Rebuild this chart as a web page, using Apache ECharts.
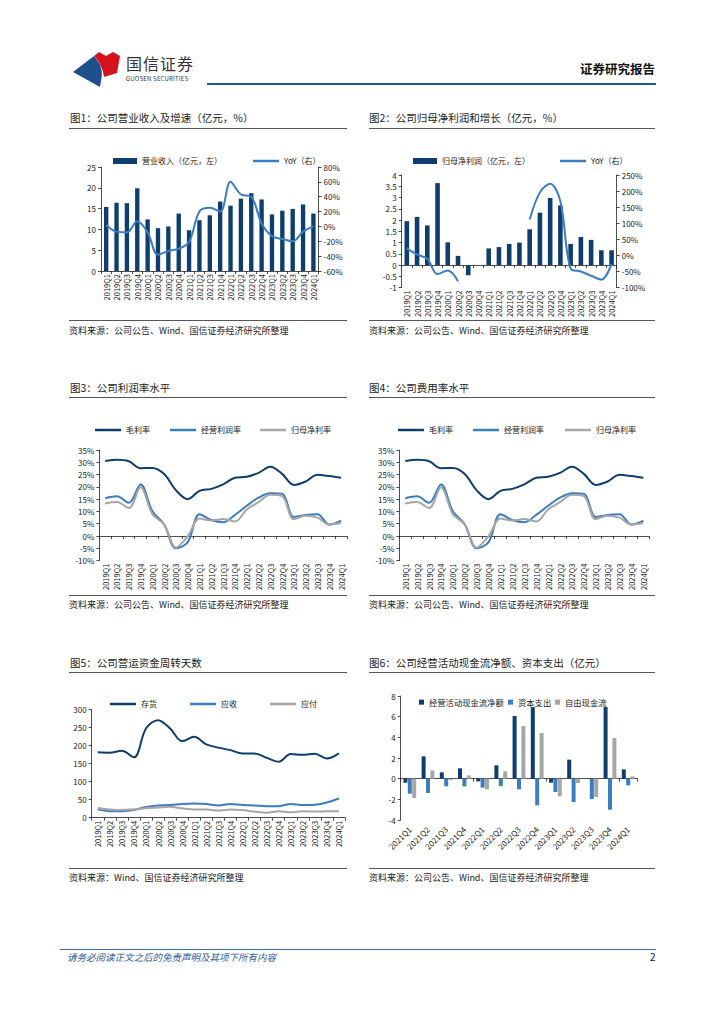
<!DOCTYPE html>
<html><head><meta charset="utf-8">
<script src="https://cdn.jsdelivr.net/npm/echarts@6.0.0/dist/echarts.min.js"></script>
<style>
body{margin:0;background:#fff;font-family:"Noto Sans CJK SC","Noto Sans",sans-serif;}
#page{position:relative;width:724px;height:1024px;overflow:hidden;background:#fff;}
.t{position:absolute;font-size:10.5px;color:#222;white-space:nowrap;line-height:14px;}
.r{position:absolute;height:0;border-top:1px solid #555;}
.s{position:absolute;font-size:9px;color:#222;white-space:nowrap;line-height:12px;}
.c{position:absolute;}
</style></head>
<body><div id="page">
<svg style="position:absolute;left:0;top:0" width="724" height="100">
  <path d="M73,72 L94,56 C97,60 100,63 101,68 C103,74 101,80 100,87 L91,82 Z" fill="#1d4f8c"/>
  <path d="M94,56 L99,52 L106,56 L113,52 L120,56 L117,73 L104,77 C103,70 100,62 94,56 Z" fill="#d7141e"/>
</svg>
<div class="t" style="left:126px;top:53px;font-size:16px;line-height:20px;color:#333;letter-spacing:1px;">国信证券</div>
<div class="t" style="left:126px;top:75px;font-size:6px;line-height:8px;color:#333;letter-spacing:0.2px;">GUOSEN SECURITIES</div>
<div class="t" style="left:580px;top:61px;font-size:12.5px;line-height:16px;font-weight:bold;color:#111;">证券研究报告</div>
<div style="position:absolute;left:207px;top:83px;width:449px;height:2px;background:#1f5593;"></div>

<div class="t" style="left:70px;top:111px;">图1：公司营业收入及增速（亿元，%）</div>
<div class="r" style="left:69px;top:128px;width:278px;"></div>
<div class="c" id="c1" style="left:60px;top:135px;width:300px;height:185px;"></div>
<div class="r" style="left:69px;top:320px;width:278px;"></div>
<div class="s" style="left:69px;top:325px;">资料来源：公司公告、Wind、国信证券经济研究所整理</div>

<div class="t" style="left:369px;top:111px;">图2：公司归母净利润和增长（亿元，%）</div>
<div class="r" style="left:369px;top:128px;width:286px;"></div>
<div class="c" id="c2" style="left:360px;top:135px;width:300px;height:185px;"></div>
<div class="r" style="left:369px;top:320px;width:286px;"></div>
<div class="s" style="left:369px;top:325px;">资料来源：公司公告、Wind、国信证券经济研究所整理</div>

<div class="t" style="left:70px;top:381px;">图3：公司利润率水平</div>
<div class="r" style="left:69px;top:397px;width:278px;"></div>
<div class="c" id="c3" style="left:60px;top:405px;width:300px;height:188px;"></div>
<div class="r" style="left:69px;top:595px;width:278px;"></div>
<div class="s" style="left:69px;top:599px;">资料来源：公司公告、Wind、国信证券经济研究所整理</div>

<div class="t" style="left:369px;top:381px;">图4：公司费用率水平</div>
<div class="r" style="left:369px;top:397px;width:286px;"></div>
<div class="c" id="c4" style="left:360px;top:405px;width:300px;height:188px;"></div>
<div class="r" style="left:369px;top:595px;width:286px;"></div>
<div class="s" style="left:369px;top:599px;">资料来源：公司公告、Wind、国信证券经济研究所整理</div>

<div class="t" style="left:70px;top:656px;">图5：公司营运资金周转天数</div>
<div class="r" style="left:69px;top:672px;width:278px;"></div>
<div class="c" id="c5" style="left:60px;top:685px;width:300px;height:178px;"></div>
<div class="r" style="left:69px;top:868px;width:278px;"></div>
<div class="s" style="left:69px;top:872px;">资料来源：Wind、国信证券经济研究所整理</div>

<div class="t" style="left:369px;top:656px;">图6：公司经营活动现金流净额、资本支出（亿元）</div>
<div class="r" style="left:369px;top:672px;width:286px;"></div>
<div class="c" id="c6" style="left:360px;top:685px;width:300px;height:178px;"></div>
<div class="r" style="left:369px;top:868px;width:286px;"></div>
<div class="s" style="left:369px;top:872px;">资料来源：公司公告、Wind、国信证券经济研究所整理</div>

<div style="position:absolute;left:60px;top:949px;width:596px;height:0;border-top:1px solid #3e6ea8;"></div>
<div class="t" style="left:67px;top:950px;font-size:9.5px;color:#2f5d9a;font-style:italic;">请务必阅读正文之后的免责声明及其项下所有内容</div>
<div class="t" style="left:650px;top:950px;font-size:10px;color:#111;">2</div>
</div>
<script>
// ---------- data ----------
const quarters = ['2019Q1','2019Q2','2019Q3','2019Q4','2020Q1','2020Q2','2020Q3','2020Q4','2021Q1','2021Q2','2021Q3','2021Q4','2022Q1','2022Q2','2022Q3','2022Q4','2023Q1','2023Q2','2023Q3','2023Q4','2024Q1'];
const revenue = [15.4,16.4,16.3,19.9,12.4,10.3,10.7,13.8,9.8,12.2,13.4,16.7,15.7,17.4,18.7,17.2,13.6,14.5,14.9,16.0,13.8];
const revenueYoY = [2,-7,-8,7,-8,-38,-33,-30,-21,20,25,20,60,43,40,4,-13,-17,-20,-7,0];
const netProfit = [1.95,2.14,1.76,3.64,1.01,0.41,-0.45,0,0.74,0.80,0.94,1.0,1.59,2.33,2.98,2.65,0.94,1.25,1.12,0.66,0.66];
const netProfitYoY = [22,3,-11,-58,-47,-80,null,null,null,null,null,null,112,196,223,168,-41,-50,-63,-75,-26];
const grossMargin = [30.5,31.0,30.4,27.6,27.7,25.2,18.6,15.0,18.4,19.2,21.0,23.7,24.1,25.7,28.2,25.3,20.8,22.2,24.9,24.4,23.7];
const opMargin = [15.4,16.2,13.5,21.0,10.1,4.7,-5.0,-2.5,8.9,6.5,5.6,8.6,12.3,15.6,17.4,17.2,7.7,8.6,8.9,4.7,6.3];
const netMargin = [13.2,13.8,11.4,19.8,8.9,4.7,-4.7,0,7.1,6.3,6.9,5.9,10.8,13.8,16.8,16.2,6.9,8.3,7.5,4.7,5.3];
const inventoryDays = [181,180,185,167,247,270,247,212,224,203,194,187,178,178,166,155,176,174,177,164,178];
const receivableDays = [23,18,18,21,30,34,35,38,39,38,34,38,35,34,32,32,38,35,36,42,53];
const payableDays = [27,23,21,23,26,28,30,26,23,23,20,23,21,17,14,18,15,18,17,18,18];
const quarters21 = ['2021Q1','2021Q2','2021Q3','2021Q4','2022Q1','2022Q2','2022Q3','2022Q4','2023Q1','2023Q2','2023Q3','2023Q4','2024Q1'];
const opCashFlow = [-0.39,2.16,0.61,1.0,-0.26,1.29,6.06,6.93,-0.39,1.84,0.05,6.93,0.9];
const capex = [-1.45,-1.39,-0.74,-0.74,-0.87,-0.72,-1.03,-2.58,-1.29,-2.26,-1.97,-3.0,-0.65];
const freeCashFlow = [-1.87,0.80,-0.13,0.32,-1.03,0.71,5.09,4.41,-1.71,-0.42,-1.78,3.93,0.22];

// ---------- styling helpers ----------
const FF = '"Noto Sans CJK SC","Noto Sans",sans-serif';
const DARK = '#0e3d6e', BLUE = '#3a7dc2', GRAY = '#a6a6a6';
const AX = {color:'#222', width:0.8};
const TXT = {fontSize:8, color:'#222', fontFamily:FF};
function valAxis(o){
  const base = {type:'value', axisLine:{show:true,lineStyle:AX}, axisTick:{show:true,length:3,lineStyle:AX},
    splitLine:{show:false}, axisLabel:Object.assign({margin:5}, TXT)};
  const r = Object.assign(base, o);
  if (o && o.fmt) { r.axisLabel = Object.assign({}, base.axisLabel, {formatter:o.fmt}); delete r.fmt; }
  return r;
}
function catAxis(data){
  return {type:'category', data, axisLine:{lineStyle:AX}, axisTick:{show:true,length:3,lineStyle:AX},
    axisLabel:Object.assign({rotate:90, interval:0, margin:3}, TXT, {fontSize:7.5})};
}
function lg(name, left, top, isBar, extra){
  return Object.assign({data:[name], left, top, selectedMode:false, itemGap:0, icon:'rect',
    itemWidth: isBar ? 24 : 26, itemHeight: isBar ? 6 : 2.5,
    textStyle:Object.assign({}, TXT)}, extra||{});
}
function line(name, data, color, yIdx){
  return {type:'line', name, data, smooth:0.35, symbol:'none', yAxisIndex:yIdx||0, connectNulls:false,
    lineStyle:{color, width:2}, itemStyle:{color}};
}
function mk(id, opt){
  const c = echarts.init(document.getElementById(id), null, {renderer:'svg'});
  opt.animation = false;
  c.setOption(opt);
}

// ---------- chart 1 ----------
mk('c1', {
  grid:{left:41, top:32, width:217.6, height:104},
  legend:[lg('营业收入（亿元，左）', 48, 17, true), lg('YoY（右）', 188, 17, false)],
  xAxis: catAxis(quarters),
  yAxis:[valAxis({min:0, max:25, interval:5}),
         valAxis({min:-60, max:80, interval:20, position:'right', fmt:v=>v+'%'})],
  series:[
    {type:'bar', name:'营业收入（亿元，左）', data:revenue, barWidth:'42%', itemStyle:{color:DARK}},
    line('YoY（右）', revenueYoY, BLUE, 1)
  ]
});

// ---------- chart 2 ----------
mk('c2', {
  grid:{left:41.7, top:40, width:215, height:118.3},
  legend:[lg('归母净利润（亿元，左）', 48, 17, true), lg('YoY（右） ', 195, 17, false)],
  xAxis: catAxis(quarters),
  yAxis:[valAxis({min:-1, max:4, interval:0.5}),
         valAxis({min:-100, max:250, interval:50, position:'right', fmt:v=>v+'%'})],
  series:[
    {type:'bar', name:'归母净利润（亿元，左）', data:netProfit, barWidth:'45%', itemStyle:{color:DARK}},
    line('YoY（右） ', netProfitYoY, BLUE, 1)
  ]
});

// ---------- chart 3 & 4 ----------
function marginOpt(gl, gw, l1, l2, l3){
  return {
    grid:{left:gl, top:45, width:gw, height:124},
    legend:[lg('毛利率', l1, 16, false), lg('经营利润率', l2, 16, false), lg('归母净利率', l3, 16, false)],
    xAxis: catAxis(quarters),
    yAxis: valAxis({min:-10, max:35, interval:5, fmt:v=>v+'%'}),
    series:[ line('毛利率', grossMargin, DARK), line('经营利润率', opMargin, BLUE), line('归母净利率', netMargin, GRAY) ]
  };
}
mk('c3', marginOpt(39.3, 247.7, 30, 105, 195));
mk('c4', marginOpt(39.3, 250, 33, 108, 200));

// ---------- chart 5 ----------
mk('c5', {
  grid:{left:31.7, top:24.3, width:253.3, height:108.4},
  legend:[lg('存货', 45, 10, false), lg('应收', 125, 10, false), lg('应付', 205, 10, false)],
  xAxis: catAxis(quarters),
  yAxis: valAxis({min:0, max:300, interval:50}),
  series:[ line('存货', inventoryDays, DARK), line('应收', receivableDays, BLUE), line('应付', payableDays, GRAY) ]
});

// ---------- chart 6 ----------
const sq = {itemWidth:5, itemHeight:5, icon:'rect', textStyle:Object.assign({}, TXT, {fontSize:8.3})};
mk('c6', {
  grid:{left:40.7, top:11, width:236.6, height:124},
  legend:[
    Object.assign(lg('经营活动现金流净额', 54, 8, false), sq),
    Object.assign(lg('资本支出', 143, 8, false), sq),
    Object.assign(lg('自由现金流', 190, 8, false), sq)
  ],
  xAxis:[
    {type:'category', data:quarters21, axisLine:{onZero:true, lineStyle:AX}, axisTick:{show:true,length:3,lineStyle:AX}, axisLabel:{show:false}},
    {type:'category', data:quarters21, position:'bottom', axisLine:{show:false, onZero:false}, axisTick:{show:false},
     axisLabel:Object.assign({rotate:45, interval:0, margin:8}, TXT)}
  ],
  yAxis: valAxis({min:-4, max:8, interval:2}),
  series:[
    {type:'bar', name:'经营活动现金流净额', data:opCashFlow, barWidth:4, barGap:'10%', itemStyle:{color:DARK}},
    {type:'bar', name:'资本支出', data:capex, barWidth:4, barGap:'10%', itemStyle:{color:BLUE}},
    {type:'bar', name:'自由现金流', data:freeCashFlow, barWidth:4, barGap:'10%', itemStyle:{color:GRAY}}
  ]
});
</script>
</body></html>
